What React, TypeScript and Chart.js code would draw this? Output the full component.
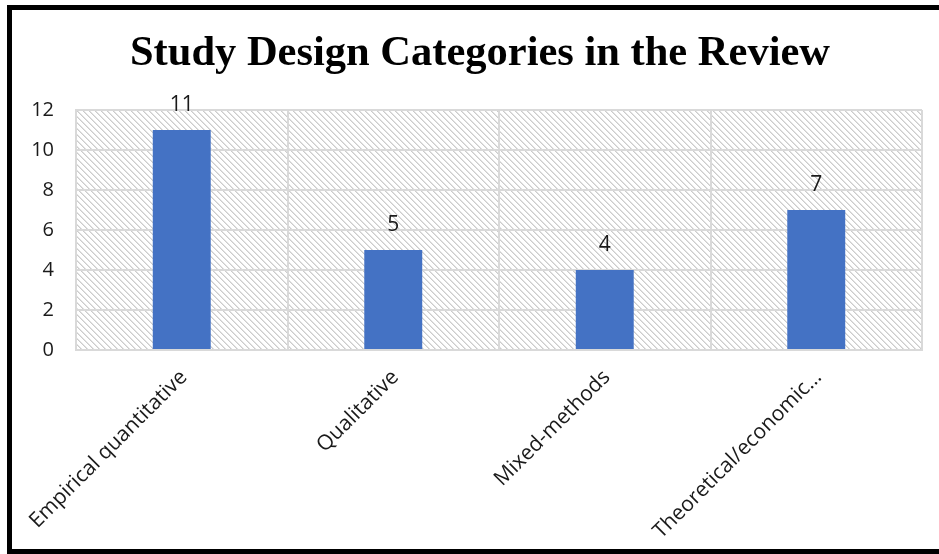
import React, { useEffect, useRef } from "react";
import { Chart, registerables } from "chart.js";

Chart.register(...registerables);

const titleText = "Study Design Categories in the Review";
const categories = ["Empirical quantitative", "Qualitative", "Mixed-methods", "Theoretical/economic…"];
const counts = [11, 5, 4, 7];
const yMin = 0;
const yMax = 12;
const yStep = 2;

function makeHatch(ctx: CanvasRenderingContext2D): CanvasPattern | string {
  const s = 6;
  const c = document.createElement("canvas");
  c.width = s;
  c.height = s;
  const g = c.getContext("2d");
  if (!g) return "#eee";
  g.fillStyle = "#ffffff";
  g.fillRect(0, 0, s, s);
  g.fillStyle = "#cccccc";
  for (let i = 0; i < s; i++) g.fillRect(i, i, 1, 1);
  g.fillStyle = "#e2e2e2";
  for (let i = 0; i < s; i++) g.fillRect((i + 1) % s, i, 1, 1);
  return ctx.createPattern(c, "repeat") || "#eee";
}

const hatchPlugin = {
  id: "hatchBg",
  beforeDraw(chart: any) {
    const { ctx, chartArea } = chart;
    if (!chartArea) return;
    ctx.save();
    ctx.fillStyle = makeHatch(ctx);
    ctx.fillRect(chartArea.left, chartArea.top, chartArea.right - chartArea.left, chartArea.bottom - chartArea.top);
    ctx.restore();
  },
};

const valueLabelPlugin = {
  id: "valueLabels",
  afterDatasetsDraw(chart: any) {
    const { ctx } = chart;
    const meta = chart.getDatasetMeta(0);
    ctx.save();
    ctx.font = "21px 'Open Sans'";
    ctx.fillStyle = "#1a1a1a";
    ctx.textAlign = "center";
    ctx.textBaseline = "middle";
    meta.data.forEach((bar: any, i: number) => {
      ctx.fillText(String(counts[i]), bar.x, bar.y - 25);
    });
    ctx.restore();
  },
};

const titlePlugin = {
  id: "customTitle",
  afterDraw(chart: any) {
    const { ctx } = chart;
    ctx.save();
    ctx.font = "bold 42.5px 'Liberation Serif', 'Times New Roman', serif";
    ctx.fillStyle = "#000";
    ctx.textAlign = "center";
    ctx.textBaseline = "alphabetic";
    ctx.fillText(titleText, 468, 55);
    ctx.restore();
  },
};

export default function App() {
  const ref = useRef<HTMLCanvasElement | null>(null);

  useEffect(() => {
    if (!ref.current) return;
    const chart = new Chart(ref.current, {
      type: "bar",
      data: {
        labels: categories,
        datasets: [
          {
            data: counts,
            backgroundColor: "#4472c4",
            categoryPercentage: 1,
            barPercentage: 0.274,
          },
        ],
      },
      options: {
        animation: false,
        responsive: false,
        devicePixelRatio: 1,
        layout: { padding: { left: 0, right: 17, top: 100, bottom: 0 } },
        plugins: {
          legend: { display: false },
          tooltip: { enabled: false },
          title: { display: false },
        },
        scales: {
          x: {
            afterFit(scale: any) {
              scale.height = 199;
              scale.paddingLeft = 0;
              scale.paddingRight = 0;
            },
            grid: { color: "#d9d9d9", lineWidth: 2, drawTicks: false, offset: true },
            border: { color: "#d9d9d9", width: 2 },
            ticks: {
              autoSkip: false,
              maxRotation: 45,
              minRotation: 45,
              padding: 15,
              labelOffset: 2,
              color: "#1a1a1a",
              font: { family: "'Open Sans', sans-serif", size: 21 },
            },
          },
          y: {
            min: yMin,
            max: yMax,
            afterFit(scale: any) {
              scale.width = 64;
            },
            grid: { color: "#d9d9d9", lineWidth: 2, drawTicks: false },
            border: { color: "#d9d9d9", width: 2 },
            ticks: {
              stepSize: yStep,
              padding: 22,
              color: "#1a1a1a",
              font: { family: "'Open Sans', sans-serif", size: 20 },
            },
          },
        },
      },
      plugins: [hatchPlugin, valueLabelPlugin, titlePlugin],
    });
    return () => chart.destroy();
  }, []);

  return (
    <div style={{ position: "fixed", left: 0, top: 0, width: 939, height: 554, background: "#fff", overflow: "hidden" }}>
      <div
        style={{
          position: "absolute",
          left: 7,
          top: 5,
          width: 940,
          height: 549,
          borderTop: "5px solid #000",
          borderLeft: "5px solid #000",
          borderBottom: "5px solid #000",
          boxSizing: "border-box",
        }}
      />
      <canvas ref={ref} width={927} height={539} style={{ position: "absolute", left: 12, top: 10, width: 927, height: 539 }} />
    </div>
  );
}
